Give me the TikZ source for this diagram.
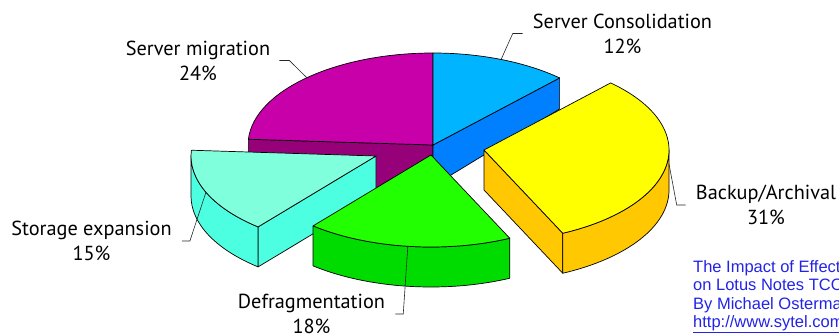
\documentclass[tikz,border=0pt]{standalone}
\usepackage{fontspec}
\setmainfont{PT Sans}
\newfontfamily\arialfont{Liberation Sans}
\definecolor{migTop}{RGB}{200,0,170}
\definecolor{migSide}{RGB}{150,0,120}
\definecolor{conTop}{RGB}{0,180,255}
\definecolor{conSide}{RGB}{0,128,255}
\definecolor{bakTop}{RGB}{255,255,0}
\definecolor{bakSide}{RGB}{255,200,0}
\definecolor{defTop}{RGB}{34,255,0}
\definecolor{defSide}{RGB}{0,220,0}
\definecolor{stoTop}{RGB}{128,255,220}
\definecolor{stoSide}{RGB}{76,255,224}
\definecolor{noteBlue}{RGB}{35,35,230}
\begin{document}
\begin{tikzpicture}[x=1bp,y=1bp,
  face/.style={draw=black,line width=0.7bp,line join=round},
  leader/.style={draw=black!85,line width=0.6bp},
  lbl/.style={align=center,inner sep=0pt,font=\fontsize{20.3bp}{25bp}\selectfont},
  ell/.style={x radius=185,y radius=92}]
\useasboundingbox (0,0) rectangle (839,335);
\clip (0,0) rectangle (839,335);
% Migration and Consolidation (not exploded)
\begin{scope}[shift={(433,190)}]
  \filldraw[face,fill=migSide] (0,0) -- (176.4:185 and 92) -- ++(0,-44) -- (0,-46) -- cycle;
  \filldraw[face,fill=migTop] (0,0) -- (90:185 and 92) arc[start angle=90,end angle=176.4,ell] -- cycle;
  \coordinate (migtip) at (133:185 and 92);
  \filldraw[face,fill=conSide] (0,0) -- (46.8:185 and 92) -- ++(0,-31) -- (0,-41) -- cycle;
  \filldraw[face,fill=conTop] (0,0) -- (46.8:185 and 92) arc[start angle=46.8,end angle=90,ell] -- cycle;
  \coordinate (contip) at (68.4:185 and 92);
\end{scope}
% Storage expansion
\begin{scope}[shift={(376,179)}]
  \filldraw[face,fill=stoSide] (0,0) -- (230.4:185 and 92) -- ++(0,-40) -- (0,-40) -- cycle;
  \filldraw[face,fill=stoSide] (180:185 and 92) arc[start angle=180,end angle=230.4,ell] -- ++(0,-40) arc[start angle=230.4,end angle=180,ell] -- cycle;
  \filldraw[face,fill=stoTop] (0,0) -- (176.4:185 and 92) arc[start angle=176.4,end angle=230.4,ell] -- cycle;
  \coordinate (stotip) at (203.2:185 and 92);
\end{scope}
% Backup/Archival
\begin{scope}[shift={(484,185)}]
  \filldraw[face,fill=bakSide] (0,0) -- (-64.8:185 and 92) -- ++(0,-40) -- (0,-40) -- cycle;
  \filldraw[face,fill=bakSide] (0:185 and 92) arc[start angle=0,end angle=-64.8,ell] -- ++(0,-40) arc[start angle=-64.8,end angle=0,ell] -- cycle;
  \filldraw[face,fill=bakTop] (0,0) -- (46.8:185 and 92) arc[start angle=46.8,end angle=-64.8,ell] -- cycle;
  \coordinate (baktip) at (185,-14);
\end{scope}
% Defragmentation
\begin{scope}[shift={(431,180)}]
  \filldraw[face,fill=defSide] (-129.6:185 and 92) arc[start angle=-129.6,end angle=-64.8,ell] -- ++(0,-40) arc[start angle=-64.8,end angle=-129.6,ell] -- cycle;
  \filldraw[face,fill=defTop] (0,0) -- (-129.6:185 and 92) arc[start angle=-129.6,end angle=-64.8,ell] -- cycle;
  \coordinate (deftip) at (-97.2:185 and 92);
\end{scope}
% Labels
\node[lbl] (mig) at (198,274.5) {Server migration\\24\%};
\node[lbl] (con) at (622.5,301.5) {Server Consolidation\\12\%};
\node[lbl] (bak) at (766,130) {Backup/Archival\\31\%};
\node[lbl] (sto) at (91.5,94) {Storage expansion\\15\%};
\node[lbl] (def) at (311.5,21) {Defragmentation\\18\%};
% Leaders
\draw[leader] ([xshift=9bp]mig.east) -- ++(10,0) -- (migtip);
\draw[leader] ([xshift=-10bp]con.west) -- ++(-10,0) -- (contip);
\draw[leader] ([xshift=-10bp]bak.west) -- ++(-9,0) -- (baktip);
\draw[leader] ([xshift=10bp]sto.east) -- ++(8,0) -- (stotip);
\draw[leader] ([xshift=10bp]def.east) -- ++(8,0) -- (deftip);
% Note
\node[anchor=north west,inner sep=0pt,align=left,text=noteBlue,
  font=\arialfont\fontsize{16.5bp}{18.3bp}\selectfont] (note) at (693,74.5)
  {The Impact of Effective\\on Lotus Notes TCO\\By Michael Osterman\\\underline{http://www.sytel.com}};
\end{tikzpicture}
\end{document}
